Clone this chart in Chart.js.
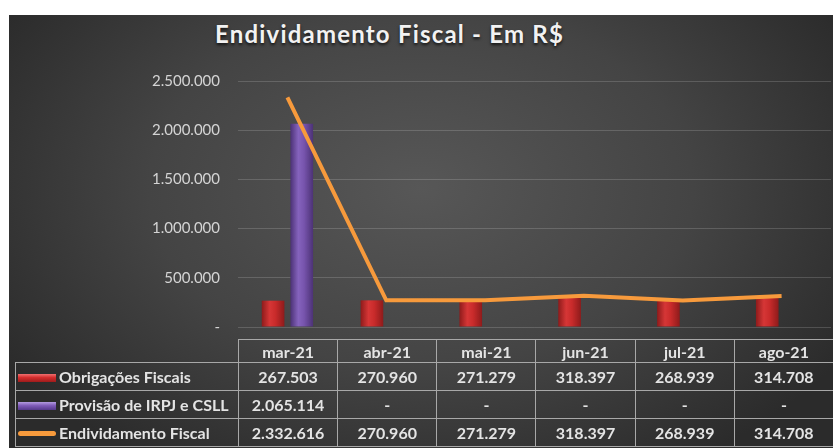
<!DOCTYPE html>
<html>
<head>
<meta charset="utf-8">
<script src="https://cdn.jsdelivr.net/npm/chart.js@4"></script>
<style>
    body { margin: 0; background: #fff; font-family: Lato, "Open Sans", sans-serif; }
    #frame {
        position: absolute; left: 9px; top: 15px; width: 824px; height: 433px;
        background: radial-gradient(ellipse 60% 75% at 50% 40%, #575757 0%, #444444 55%, #2b2b2b 100%);
        overflow: hidden;
    }
    #title {
        position: absolute; left: 206px; top: 4px; white-space: nowrap;
        color: #f2f2f2; font: bold 24px Lato, sans-serif; letter-spacing: 1.2px;
        text-shadow: 0 2px 3px rgba(0,0,0,0.7);
    }
    #chart-box { position: absolute; left: 0; top: 39px; width: 824px; height: 300px; }
    #tabela {
        position: absolute; left: 6px; top: 324px; width: 818px;
        border-collapse: collapse; table-layout: fixed;
        color: #e4e4e4; font: bold 16px Lato, sans-serif;
    }
    #tabela td { border: 1px solid #a8a8a8; text-align: center; padding: 0; white-space: nowrap; overflow: hidden; }
    #tabela tr.head td { height: 22px; }
    #tabela tr.head td.blank { border: none; border-bottom: 1px solid #a8a8a8; }
    #tabela tr.row td { height: 27px; }
    #tabela td.nome { text-align: left; padding-left: 2px; }
    .sw { display: inline-block; width: 38px; vertical-align: middle; margin-right: 3px; position: relative; top: -1px; }
    .sw-red { height: 8px; background: linear-gradient(#f07070, #d42c2c 45%, #9e1c1c); }
    .sw-purple { height: 8px; background: linear-gradient(#b39be0, #7f5bb8 45%, #55388a); }
    .sw-orange { height: 5px; border-radius: 3px; background: #f79a3c; }
</style>
</head>
<body>
<div id="frame">
    <div id="title">Endividamento Fiscal - Em R$</div>
    <div id="chart-box"><canvas id="grafico"></canvas></div>
    <table id="tabela"></table>
</div>
<script>
// --- Dados ---
const meses = ['mar-21', 'abr-21', 'mai-21', 'jun-21', 'jul-21', 'ago-21'];
const obrigacoesFiscais = [267503, 270960, 271279, 318397, 268939, 314708];
const provisaoIrpjCsll = [2065114, 0, 0, 0, 0, 0];
const endividamentoFiscal = [2332616, 270960, 271279, 318397, 268939, 314708];
const yTicks = [0, 500000, 1000000, 1500000, 2000000, 2500000];

const CAT_PCT = 0.58, BAR_PCT = 0.79;

function fmt(v) {
    if (!v) return '-';
    return v.toString().replace(/\B(?=(\d{3})+(?!\d))/g, '.');
}

// --- Tabela de dados (abaixo do grafico) ---
function montarTabela() {
    const tab = document.getElementById('tabela');
    let html = '<colgroup><col style="width:223px">';
    meses.forEach(() => { html += '<col style="width:99.17px">'; });
    html += '</colgroup>';
    html += '<tr class="head"><td class="blank"></td>' + meses.map(m => '<td>' + m + '</td>').join('') + '</tr>';
    const linhas = [
        ['Obrigações Fiscais', 'sw-red', obrigacoesFiscais],
        ['Provisão de IRPJ e CSLL', 'sw-purple', provisaoIrpjCsll],
        ['Endividamento Fiscal', 'sw-orange', endividamentoFiscal]
    ];
    linhas.forEach(l => {
        html += '<tr class="row"><td class="nome"><span class="sw ' + l[1] + '"></span>' + l[0] + '</td>' +
            l[2].map(v => '<td>' + fmt(v) + '</td>').join('') + '</tr>';
    });
    tab.innerHTML = html;
}
montarTabela();

// gradiente horizontal "3D" para cada barra (escuro nas bordas, claro no meio)
function barGradient(stops, fallback) {
    return function (ctx) {
        const chart = ctx.chart;
        const xs = chart.scales && chart.scales.x;
        if (!xs || ctx.dataIndex === undefined) return fallback;
        const slot = (xs.width / meses.length) * CAT_PCT / 2;
        const center = xs.getPixelForValue(ctx.dataIndex) + (ctx.datasetIndex === 0 ? -slot / 2 : slot / 2);
        const half = slot * BAR_PCT / 2;
        if (!isFinite(center) || !isFinite(half) || half <= 0) return fallback;
        const g = chart.ctx.createLinearGradient(center - half, 0, center + half, 0);
        g.addColorStop(0, stops[0]);
        g.addColorStop(0.35, stops[1]);
        g.addColorStop(0.6, stops[2]);
        g.addColorStop(1, stops[0]);
        return g;
    };
}

// --- Grafico ---
const grafico = new Chart(document.getElementById('grafico'), {
    type: 'bar',
    data: {
        labels: meses,
        datasets: [
            {
                label: 'Obrigações Fiscais',
                data: obrigacoesFiscais,
                backgroundColor: barGradient(['#8e1b1b', '#d63636', '#c92b2b'], '#cc2e2e'),
                borderWidth: 0,
                order: 1
            },
            {
                label: 'Provisão de IRPJ e CSLL',
                data: provisaoIrpjCsll,
                backgroundColor: barGradient(['#4c3276', '#8563bd', '#7754ad'], '#7b58b3'),
                borderWidth: 0,
                order: 1
            },
            {
                type: 'line',
                label: 'Endividamento Fiscal',
                data: endividamentoFiscal,
                borderColor: '#f79a3c',
                borderWidth: 4,
                pointRadius: 0,
                tension: 0,
                order: 0
            }
        ]
    },
    options: {
        responsive: true,
        maintainAspectRatio: false,
        animation: false,
        categoryPercentage: CAT_PCT,
        barPercentage: BAR_PCT,
        layout: { padding: 0 },
        plugins: { legend: { display: false }, tooltip: { enabled: false } },
        scales: {
            x: { display: false },
            y: {
                min: 0,
                max: 2500000,
                afterBuildTicks: s => { s.ticks = yTicks.map(v => ({ value: v })); },
                afterFit: s => { s.width = 229; },
                border: { display: false },
                grid: { color: 'rgba(255,255,255,0.16)', drawTicks: false },
                ticks: {
                    padding: 18,
                    color: '#d4d4d4',
                    font: { family: 'Lato', size: 15 },
                    callback: v => fmt(v)
                }
            }
        }
    }
});
grafico.update();
</script>
</body>
</html>
